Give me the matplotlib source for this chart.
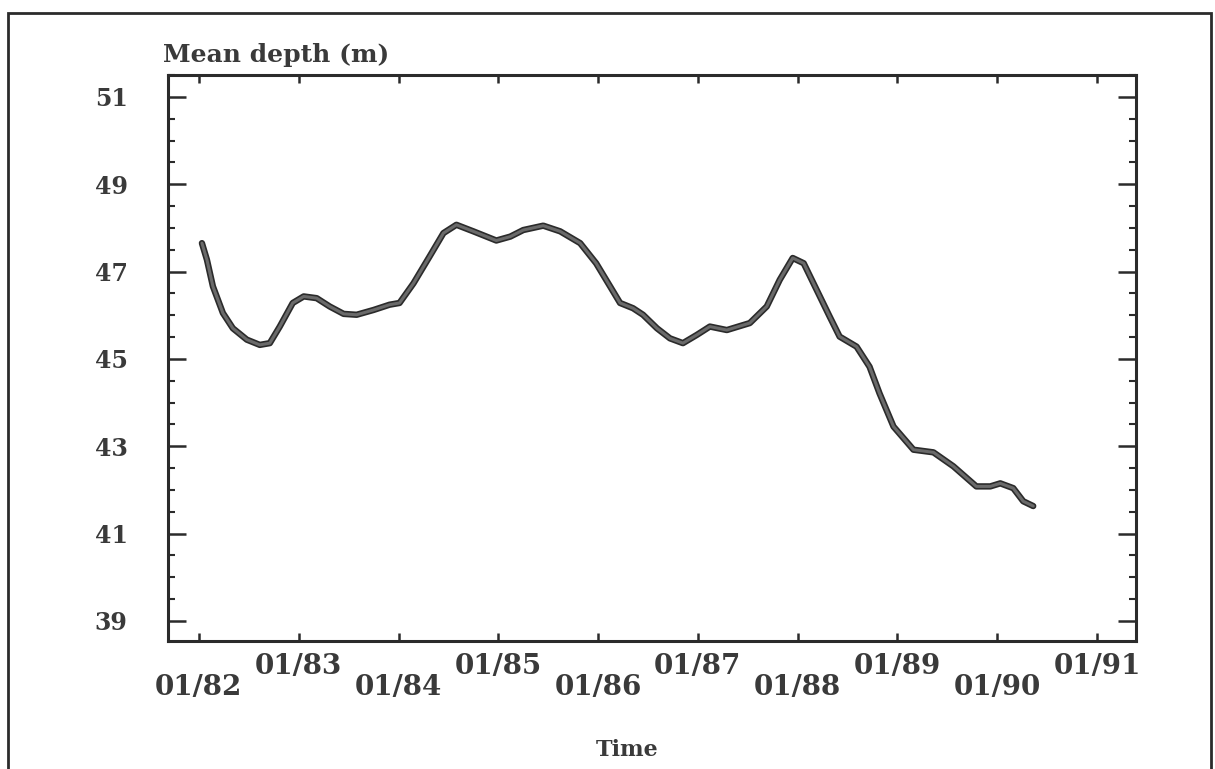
import numpy as np
import matplotlib
matplotlib.use('Agg')
import matplotlib.pyplot as plt
import matplotlib.patheffects as pe
from matplotlib.patches import Rectangle
from matplotlib.ticker import MultipleLocator

# mean depth values
years = [1982.03, 1982.08, 1982.14, 1982.24, 1982.34, 1982.48, 1982.61, 1982.71,
         1982.81, 1982.94, 1983.05, 1983.18, 1983.31, 1983.45, 1983.58, 1983.75,
         1983.91, 1984.01, 1984.15, 1984.31, 1984.45, 1984.58, 1984.75, 1984.98,
         1985.12, 1985.25, 1985.45, 1985.62, 1985.82, 1985.98, 1986.12, 1986.22,
         1986.35, 1986.45, 1986.59, 1986.72, 1986.85, 1986.99, 1987.12, 1987.29,
         1987.52, 1987.69, 1987.82, 1987.95, 1988.06, 1988.19, 1988.32, 1988.42,
         1988.59, 1988.72, 1988.82, 1988.96, 1989.16, 1989.36, 1989.56, 1989.79,
         1989.93, 1990.03, 1990.16, 1990.26, 1990.36]
depth = [47.65, 47.27, 46.66, 46.05, 45.70, 45.44, 45.32, 45.36,
         45.74, 46.28, 46.43, 46.39, 46.20, 46.03, 46.01, 46.12,
         46.24, 46.28, 46.73, 47.34, 47.88, 48.07, 47.92, 47.71,
         47.80, 47.95, 48.05, 47.92, 47.65, 47.19, 46.66, 46.28,
         46.16, 46.01, 45.70, 45.47, 45.36, 45.55, 45.74, 45.66,
         45.82, 46.20, 46.81, 47.31, 47.19, 46.58, 45.97, 45.51,
         45.28, 44.82, 44.21, 43.45, 42.92, 42.86, 42.54, 42.08,
         42.08, 42.15, 42.04, 41.74, 41.63]

tick_years = [1982, 1983, 1984, 1985, 1986, 1987, 1988, 1989, 1990, 1991]
tick_labels = ['01/82', '01/83', '01/84', '01/85', '01/86',
               '01/87', '01/88', '01/89', '01/90', '01/91']
y_ticks = [39, 41, 43, 45, 47, 49, 51]

W, H = 1215, 769
ink = '#2b2b2b'
fnt = dict(family='DejaVu Serif', weight='bold', color='#3a3a3a')

fig = plt.figure(figsize=(W / 100, H / 100), dpi=100)
ax = fig.add_axes([168 / W, 1 - 641 / H, (1136 - 168) / W, (641 - 75) / H])

ax.plot(years, depth, color='#6a6a6a', lw=2.2, solid_capstyle='round',
        solid_joinstyle='round',
        path_effects=[pe.Stroke(linewidth=4.6, foreground=ink, joinstyle='round',
                                capstyle='round'), pe.Normal()])

ax.set_xlim(1981.69, 1991.39)
ax.set_ylim(38.54, 51.5)

ax.set_xticks(tick_years)
ax.set_xticklabels(tick_labels, fontsize=20, **fnt)
ax.set_yticks(y_ticks)
ax.set_yticklabels([str(v) for v in y_ticks], fontsize=17, **fnt)
ax.yaxis.set_minor_locator(MultipleLocator(0.5))

ax.tick_params(axis='x', direction='in', length=6, width=1.8, color=ink,
               top=True, bottom=True)
ax.tick_params(axis='y', which='major', direction='in', length=13, width=1.8,
               color=ink, left=True, right=True, pad=29)
ax.tick_params(axis='y', which='minor', direction='in', length=5, width=1.5,
               color=ink, left=True, right=True)

# staggered date labels, odd ones sit higher
for i, t in enumerate(ax.xaxis.get_major_ticks()):
    t.set_pad(9 if i % 2 else 24)

for s in ax.spines.values():
    s.set_linewidth(2.2)
    s.set_color(ink)

fig.text(163 / W, 1 - 55 / H, 'Mean depth (m)', fontsize=18, ha='left', va='center', **fnt)
fig.text(627 / W, 1 - 750 / H, 'Time', fontsize=16, ha='center', va='center', **fnt)

# frame round the whole scanned page
fig.patches.append(Rectangle((8 / W, -0.05), (1211 - 8) / W, 1 - 13 / H + 0.05,
                             transform=fig.transFigure, fill=False,
                             edgecolor=ink, linewidth=2, clip_on=False))

plt.savefig('out.png', dpi=100)
